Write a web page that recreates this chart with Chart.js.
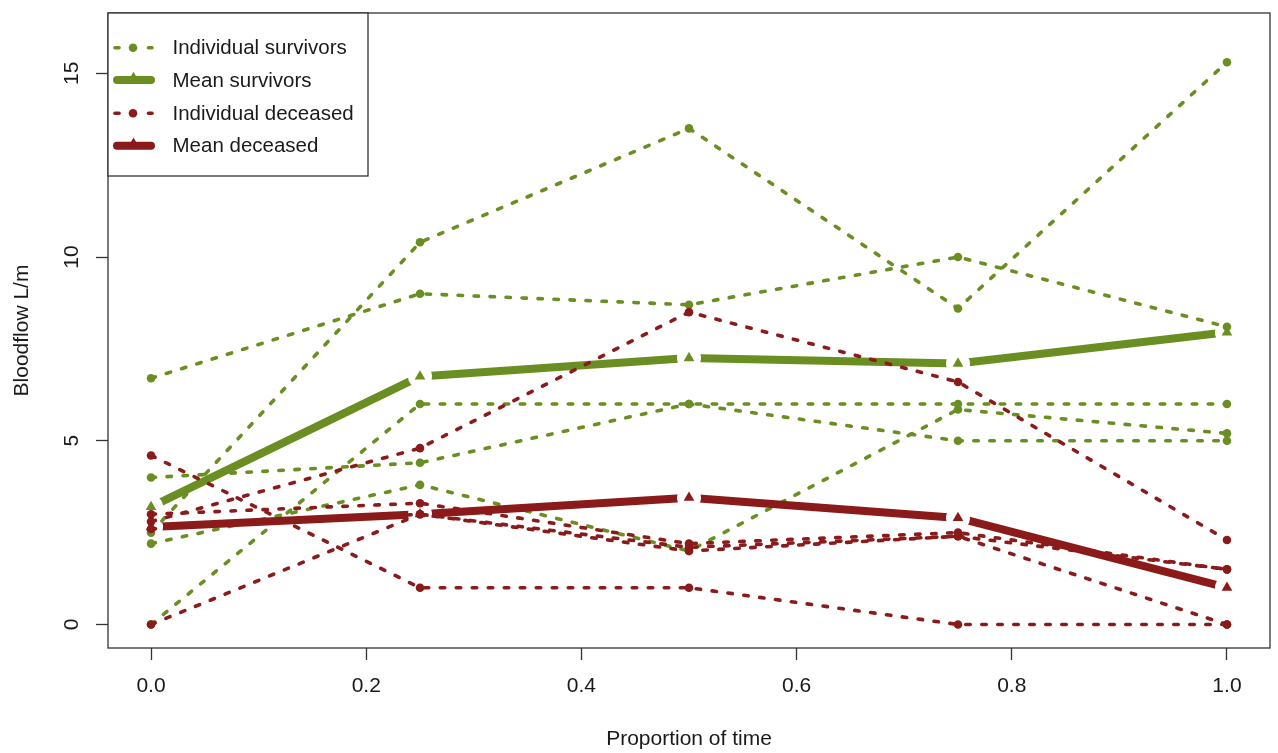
<!DOCTYPE html>
<html><head><meta charset="utf-8">
<script src="https://cdn.jsdelivr.net/npm/chart.js@4.4.1/dist/chart.umd.min.js"></script>
<style>html,body{margin:0;padding:0;background:#fff;} #wrap{width:1278px;height:753px;position:relative;}</style>
</head><body><div id="wrap"><canvas id="c"></canvas></div>
<script>
// ---- data ----
const timePoints = [0, 0.25, 0.5, 0.75, 1.0];
const survivor1 = [6.7, 9.0, 8.7, 10.0, 8.1];
const survivor2 = [2.5, 10.4, 13.5, 8.6, 15.3];
const survivor3 = [0.0, 6.0, 6.0, 6.0, 6.0];
const survivor4 = [4.0, 4.4, 6.0, 5.0, 5.0];
const survivor5 = [2.2, 3.8, 2.0, 5.85, 5.2];
const meanSurvivors = [3.2, 6.75, 7.25, 7.1, 7.95];
const deceased1 = [4.6, 1.0, 1.0, 0.0, 0.0];
const deceased2 = [2.8, 4.8, 8.5, 6.6, 2.3];
const deceased3 = [3.0, 3.3, 2.2, 2.5, 1.5];
const deceased4 = [2.6, 3.0, 2.1, 2.4, 0.0];
const deceased5 = [0.0, 3.0, 2.0, 2.4, 1.5];
const meanDeceased = [2.65, 3.0, 3.45, 2.9, 1.0];
const xTicks = [0, 0.2, 0.4, 0.6, 0.8, 1.0];
const yTicks = [0, 5, 10, 15];
const legendLabels = ['Individual survivors', 'Mean survivors', 'Individual deceased', 'Mean deceased'];
const xTitle = 'Proportion of time';
const yTitle = 'Bloodflow L/m';

// ---- style ----
const GREEN = '#6B8E23';
const RED = '#8B1A1A';
const AXIS = '#333333';
const TEXT = '#1a1a1a';
const FONT = "'Liberation Sans', Arial, sans-serif";

const pts = arr => arr.map((v, i) => ({x: timePoints[i], y: v}));

function individual(arr, color, order) {
  return {
    data: pts(arr), borderColor: color, backgroundColor: color,
    borderWidth: 3.6, borderDash: [4.5, 11.5], borderCapStyle: 'round', borderJoinStyle: 'round',
    pointRadius: 4.3, pointBorderWidth: 0, pointStyle: 'circle', pointHoverRadius: 4.3,
    tension: 0, order: order, fill: false
  };
}
function meanLine(arr, color, order) {
  return {
    data: pts(arr), borderColor: color, backgroundColor: color,
    borderWidth: 8, borderCapStyle: 'butt', borderJoinStyle: 'round',
    pointRadius: 0, tension: 0, order: order, fill: false, gapped: true
  };
}
function meanPoints(arr, color, order) {
  return {
    data: pts(arr), borderColor: color, backgroundColor: color, showLine: false,
    pointStyle: 'triangle', pointRadius: 6.2, pointBorderWidth: 0, pointHoverRadius: 6.2,
    order: order
  };
}

const datasets = [
  individual(survivor1, GREEN, 50), individual(survivor2, GREEN, 50),
  individual(survivor3, GREEN, 50), individual(survivor4, GREEN, 50),
  individual(survivor5, GREEN, 50),
  meanLine(meanSurvivors, GREEN, 40), meanPoints(meanSurvivors, GREEN, 39),
  individual(deceased1, RED, 30), individual(deceased2, RED, 30),
  individual(deceased3, RED, 30), individual(deceased4, RED, 30),
  individual(deceased5, RED, 30),
  meanLine(meanDeceased, RED, 20), meanPoints(meanDeceased, RED, 19)
];

const gapPlugin = {
  id: 'gapPlugin',
  beforeDatasetDraw(chart, args) {
    const ds = chart.data.datasets[args.index];
    if (!ds.gapped) return;
    const ctx = chart.ctx;
    const meta = args.meta;
    ctx.save();
    ctx.beginPath();
    ctx.rect(0, 0, chart.width, chart.height);
    const R = 12;
    meta.data.forEach(p => { ctx.moveTo(p.x + R, p.y); ctx.arc(p.x, p.y, R, 0, Math.PI * 2, true); });
    ctx.clip('evenodd');
  },
  afterDatasetDraw(chart, args) {
    const ds = chart.data.datasets[args.index];
    if (!ds.gapped) return;
    chart.ctx.restore();
  }
};

const boxLegendPlugin = {
  id: 'boxLegend',
  afterDraw(chart) {
    const ctx = chart.ctx;
    const a = chart.chartArea;
    ctx.save();
    ctx.strokeStyle = AXIS;
    ctx.lineWidth = 1.3;
    ctx.strokeRect(a.left, a.top, a.right - a.left, a.bottom - a.top);
    // legend box
    const lx = a.left, ly = a.top, lw = 260, lh = 163;
    ctx.fillStyle = '#fff';
    ctx.fillRect(lx, ly, lw, lh);
    ctx.strokeRect(lx, ly, lw, lh);
    const rows = [47.7, 80, 113.3, 145.7];
    const colors = [GREEN, GREEN, RED, RED];
    rows.forEach((y, i) => {
      const c = colors[i];
      ctx.strokeStyle = c; ctx.fillStyle = c;
      if (i % 2 === 0) {
        ctx.lineWidth = 3.6; ctx.lineCap = 'round';
        ctx.beginPath(); ctx.moveTo(115, y); ctx.lineTo(119, y); ctx.stroke();
        ctx.beginPath(); ctx.moveTo(148.5, y); ctx.lineTo(152, y); ctx.stroke();
        ctx.beginPath(); ctx.arc(133, y, 4.3, 0, Math.PI * 2); ctx.fill();
      } else {
        ctx.lineWidth = 8; ctx.lineCap = 'round';
        ctx.beginPath(); ctx.moveTo(117, y); ctx.lineTo(151, y); ctx.stroke();
        const r = 6.2, cx = 133.5, cy = y - 2;
        ctx.beginPath();
        ctx.moveTo(cx, cy - r);
        ctx.lineTo(cx + r * Math.sin(2 * Math.PI / 3), cy - r * Math.cos(2 * Math.PI / 3));
        ctx.lineTo(cx + r * Math.sin(4 * Math.PI / 3), cy - r * Math.cos(4 * Math.PI / 3));
        ctx.closePath(); ctx.fill();
      }
      ctx.fillStyle = TEXT;
      ctx.font = '20.5px ' + FONT;
      ctx.textBaseline = 'middle';
      ctx.textAlign = 'left';
      ctx.fillText(legendLabels[i], 172.5, y + 1);
    });
    ctx.restore();
  }
};

new Chart(document.getElementById('c'), {
  type: 'line',
  data: { datasets },
  options: {
    responsive: true, maintainAspectRatio: false, animation: false,
    layout: { padding: { top: 13, right: 8, left: 0, bottom: 0 } },
    plugins: { legend: { display: false }, tooltip: { enabled: false } },
    events: [],
    scales: {
      x: {
        type: 'linear', min: -0.04, max: 1.04,
        afterBuildTicks: s => { s.ticks = xTicks.map(v => ({ value: v })); },
        afterFit: s => { s.height = 105; s.paddingLeft = 0; s.paddingRight = 0; },
        border: { display: false },
        grid: { display: true, drawOnChartArea: false, drawTicks: true, tickLength: 12, tickWidth: 1.3, tickColor: AXIS },
        ticks: { autoSkip: false, maxRotation: 0, minRotation: 0, padding: 14, color: TEXT,
          font: { family: FONT, size: 21 }, callback: v => Number(v).toFixed(1) },
        title: { display: true, text: xTitle, color: TEXT, font: { family: FONT, size: 21 }, padding: { top: 0, bottom: 1 } }
      },
      y: {
        type: 'linear', min: -0.64, max: 16.64,
        afterBuildTicks: s => { s.ticks = yTicks.map(v => ({ value: v })); },
        afterFit: s => { s.width = 108; s.paddingTop = 0; s.paddingBottom = 0; },
        border: { display: false },
        grid: { display: true, drawOnChartArea: false, drawTicks: true, tickLength: 12, tickWidth: 1.3, tickColor: AXIS },
        ticks: { autoSkip: false, minRotation: 90, maxRotation: 90, crossAlign: 'center', padding: 12, color: TEXT,
          font: { family: FONT, size: 21 }, callback: v => String(v) },
        title: { display: true, text: yTitle, color: TEXT, font: { family: FONT, size: 21 }, padding: { top: 10, bottom: 0 } }
      }
    }
  },
  plugins: [gapPlugin, boxLegendPlugin]
});
</script></body></html>
